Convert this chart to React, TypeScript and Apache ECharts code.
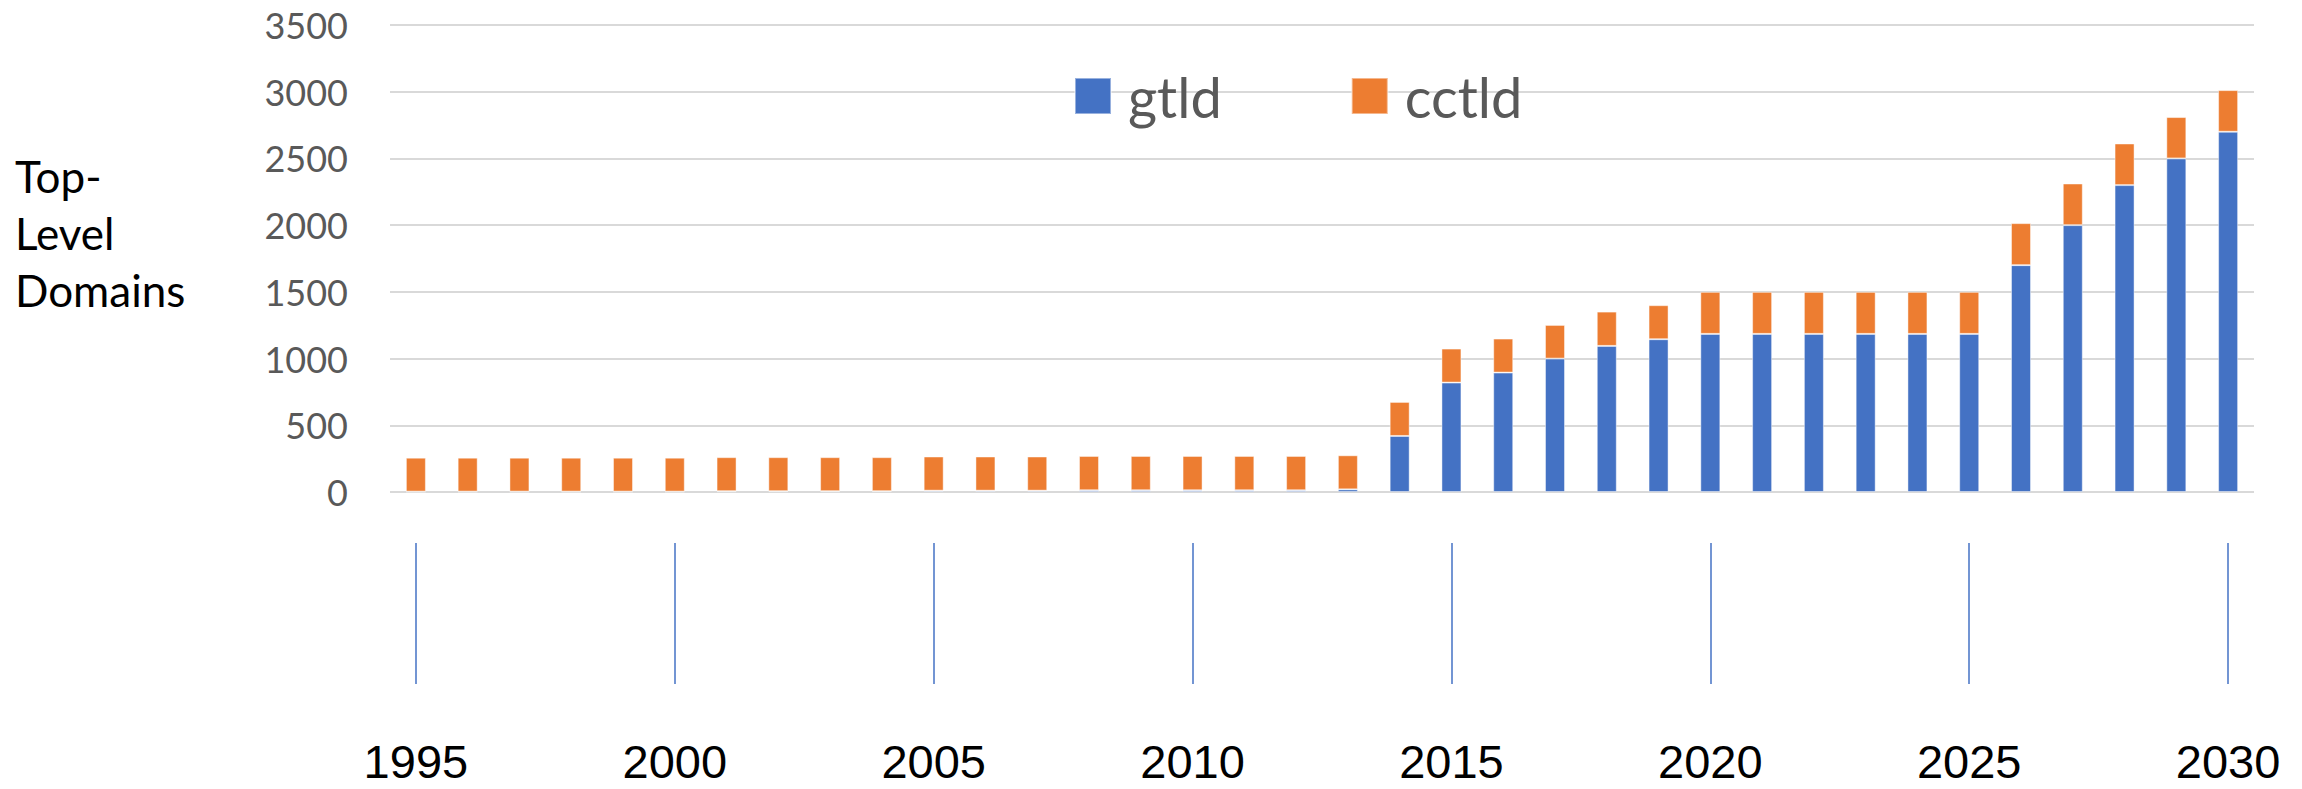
import React, { useEffect, useRef } from "react";
import * as echarts from "echarts";

const years = [
  "1995", "1996", "1997", "1998", "1999", "2000", "2001", "2002", "2003", "2004",
  "2005", "2006", "2007", "2008", "2009", "2010", "2011", "2012", "2013", "2014",
  "2015", "2016", "2017", "2018", "2019", "2020", "2021", "2022", "2023", "2024",
  "2025", "2026", "2027", "2028", "2029", "2030",
];

const gtld = [
  3, 3, 3, 3, 3, 3, 6, 6, 6, 6,
  10, 10, 10, 13, 13, 13, 13, 13, 20, 420,
  820, 895, 1000, 1095, 1145, 1185, 1185, 1185, 1185, 1185,
  1185, 1700, 2000, 2300, 2500, 2700,
];

const cctld = [
  254, 254, 254, 254, 254, 254, 255, 255, 255, 255,
  256, 256, 256, 257, 257, 257, 257, 257, 255, 255,
  255, 255, 252, 257, 255, 315, 315, 315, 315, 315,
  315, 315, 312, 312, 310, 312,
];

const yTicks = { min: 0, max: 3500, interval: 500 };
const axisTitle = "Top-\nLevel\nDomains";
const seriesNames = ["gtld", "cctld"];

export default function App() {
  const ref = useRef<HTMLDivElement>(null);

  useEffect(() => {
    if (!ref.current) return;
    const chart = echarts.init(ref.current, null, { renderer: "svg" });
    const every5 = (i: number) => i % 5 === 0;
    chart.setOption({
      animation: false,
      backgroundColor: "#ffffff",
      grid: [
        { left: 390, right: 48, top: 25, height: 467 },
        { left: 390, right: 48, top: 543, height: 141 },
      ],
      legend: {
        data: seriesNames,
        left: 1069,
        top: 63,
        icon: "rect",
        itemWidth: 36,
        itemHeight: 36,
        itemGap: 129,
        textStyle: {
          fontSize: 56,
          color: "#595959",
          fontFamily: "Lato",
          padding: [0, 0, 0, 12],
        },
      },
      xAxis: [
        {
          type: "category",
          gridIndex: 0,
          data: years,
          axisLine: { show: false },
          axisTick: { show: false },
          axisLabel: { show: false },
        },
        {
          type: "category",
          gridIndex: 1,
          data: years,
          position: "bottom",
          axisLine: { show: false },
          axisTick: {
            show: true,
            interval: every5,
            alignWithLabel: true,
            inside: true,
            length: 141,
            lineStyle: { color: "#4472C4", width: 1.5 },
          },
          axisLabel: {
            show: true,
            interval: every5,
            fontSize: 47,
            lineHeight: 43,
            fontFamily: "Liberation Sans, Arial",
            color: "#000000",
            margin: 56,
          },
        },
      ],
      yAxis: [
        {
          type: "value",
          gridIndex: 0,
          min: yTicks.min,
          max: yTicks.max,
          interval: yTicks.interval,
          axisLine: { show: false },
          axisTick: { show: false },
          axisLabel: {
            fontSize: 36,
            color: "#595959",
            fontFamily: "Lato",
            margin: 42,
            formatter: (v: number) => String(v),
          },
          splitLine: { lineStyle: { color: "#d9d9d9", width: 2 } },
        },
        {
          type: "value",
          gridIndex: 1,
          show: false,
          min: 0,
          max: 1,
          splitLine: { show: false },
        },
      ],
      series: [
        {
          name: seriesNames[0],
          type: "bar",
          stack: "total",
          xAxisIndex: 0,
          yAxisIndex: 0,
          barWidth: 20,
          data: gtld,
          itemStyle: {
            color: "#4472C4",
            borderColor: "rgba(255,255,255,0.45)",
            borderWidth: 1,
          },
        },
        {
          name: seriesNames[1],
          type: "bar",
          stack: "total",
          xAxisIndex: 0,
          yAxisIndex: 0,
          barWidth: 20,
          data: cctld,
          itemStyle: {
            color: "#ED7D31",
            borderColor: "rgba(255,255,255,0.45)",
            borderWidth: 1,
          },
        },
      ],
      graphic: [
        {
          type: "text",
          left: 15,
          top: 147,
          style: {
            text: axisTitle,
            fontSize: 44,
            lineHeight: 57,
            fontFamily: "Lato",
            fill: "#000000",
            align: "left",
            verticalAlign: "top",
          },
        },
      ],
    });
    return () => chart.dispose();
  }, []);

  return (
    <div
      ref={ref}
      style={{ position: "absolute", left: 0, top: 0, width: 2302, height: 789 }}
    />
  );
}
